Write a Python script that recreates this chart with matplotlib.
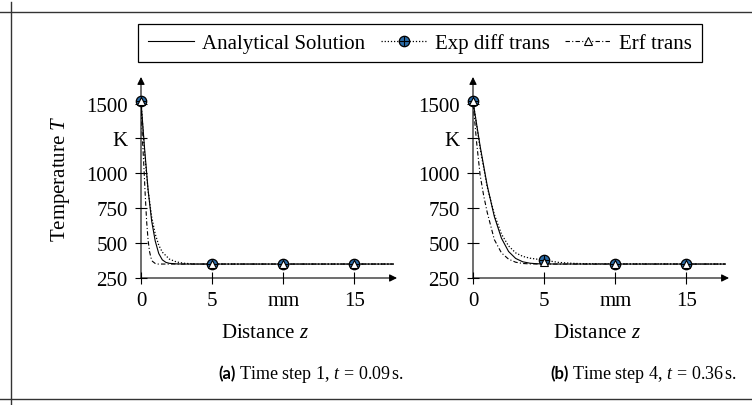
#plot of temperature profiles for two time steps, analytical vs transformations
import matplotlib.pyplot as plt
from matplotlib.lines import Line2D

plt.rcParams['font.family'] = 'Liberation Serif'
plt.rcParams['mathtext.fontset'] = 'custom'
plt.rcParams['mathtext.rm'] = 'Liberation Serif'
plt.rcParams['mathtext.it'] = 'Liberation Serif:italic'
plt.rcParams['font.size'] = 15

# time step 1, t = 0.09 s
z_ana_a = [0, 0.25, 0.5, 0.75, 1.0, 1.25, 1.5, 1.75, 2.0, 2.5, 3.0, 17.75]
T_ana_a = [1515, 1180, 880, 658, 515, 425, 380, 362, 355, 351, 350, 350]
z_exp_a = [0, 0.25, 0.5, 0.75, 1.0, 1.25, 1.5, 2.0, 2.5, 3.0, 3.5, 4.0, 17.75]
T_exp_a = [1515, 1150, 875, 688, 565, 485, 435, 385, 365, 356, 352, 350, 350]
z_erf_a = [0, 0.1, 0.2, 0.3, 0.4, 0.5, 0.6, 0.7, 0.8, 1.0, 1.2, 17.75]
T_erf_a = [1515, 1245, 1055, 838, 650, 520, 440, 395, 370, 354, 350, 350]

# time step 4, t = 0.36 s
z_ana_b = [0, 0.5, 1.0, 1.5, 2.0, 2.5, 3.0, 3.5, 4.0, 4.5, 5.0, 6.0, 17.75]
T_ana_b = [1515, 1195, 912, 690, 535, 440, 390, 366, 356, 352, 351, 350, 350]
z_exp_b = [0, 0.5, 1.0, 1.5, 2.0, 2.5, 3.0, 3.5, 4.0, 4.5, 5.0, 5.5, 6.0, 7.0, 8.0, 17.75]
T_exp_b = [1515, 1180, 902, 705, 565, 480, 430, 405, 392, 385, 380, 370, 362, 355, 352, 350]
z_erf_b = [0, 0.25, 0.5, 0.75, 1.0, 1.5, 2.0, 2.5, 3.0, 3.5, 4.0, 5.0, 17.75]
T_erf_b = [1515, 1225, 988, 840, 720, 525, 430, 385, 363, 354, 351, 350, 350]

# grid nodes where markers are drawn
z_nodes = [0, 5, 10, 15]
exp_nodes_a = [1515, 350, 350, 350]
erf_nodes_a = [1515, 350, 350, 350]
exp_nodes_b = [1515, 380, 350, 350]
erf_nodes_b = [1515, 362, 350, 350]

xticks = [0, 5, 10, 15]
xticklabels = ['0', '5', 'mm', '15']
yticks = [250, 500, 750, 1000, 1250, 1500]
yticklabels = ['250', '500', '750', '1000', 'K', '1500']

captions = [('(a)', r'Time step 1, $t\,=\,0.09\,$s.'),
            ('(b)', r'Time step 4, $t\,=\,0.36\,$s.')]

blue = '#2b6ca8'
dashdot = (0, (4, 2, 1, 2))
W, H = 752, 406

fig = plt.figure(figsize=(W / 100, H / 100), dpi=100)

def px(x, y):
    return x / W, 1 - y / H

panels = [
    (141, z_ana_a, T_ana_a, z_exp_a, T_exp_a, z_erf_a, T_erf_a, exp_nodes_a, erf_nodes_a),
    (473, z_ana_b, T_ana_b, z_exp_b, T_exp_b, z_erf_b, T_erf_b, exp_nodes_b, erf_nodes_b),
]

axes = []
for i, (x0, za, Ta, ze, Te, zf, Tf, en, fn) in enumerate(panels):
    ax = fig.add_axes([x0 / W, (H - 279) / H, 256 / W, 201 / H])
    ax.plot(za, Ta, color='k', lw=0.8)
    ax.plot(ze, Te, color='k', lw=0.9, ls=(0, (1, 1.5)))
    ax.plot(zf, Tf, color='k', lw=0.8, ls=dashdot)
    ax.plot(z_nodes, en, ls='none', marker='o', ms=7.5, mfc=blue, mec='k', mew=0.9, clip_on=False, zorder=5)
    ax.plot(z_nodes, en, ls='none', marker='+', ms=7, color='k', mew=0.8, clip_on=False, zorder=5)
    ax.plot(z_nodes, fn, ls='none', marker='^', ms=5.5, mfc='white', mec='k', mew=0.8, clip_on=False, zorder=6)
    ax.set_xlim(0, 18)
    ax.set_ylim(250, 1690)
    ax.set_xticks(xticks)
    ax.set_xticklabels(xticklabels)
    ax.set_yticks(yticks)
    ax.set_yticklabels(yticklabels)
    ax.tick_params(direction='inout', length=9, width=0.8, pad=5)
    for s in ax.spines.values():
        s.set_visible(False)
    ax.patch.set_visible(False)
    arrow = dict(arrowstyle='-|>', lw=0.8, color='k', mutation_scale=11, shrinkA=0, shrinkB=0)
    ax.annotate('', xy=(1, 0), xytext=(0, 0), xycoords='axes fraction', arrowprops=arrow)
    ax.annotate('', xy=(0, 1), xytext=(0, 0), xycoords='axes fraction', arrowprops=arrow)
    axes.append(ax)

    cx = x0 + 124
    fig.text(*px(cx, 333), r'Distance $z$', ha='center', va='center')
    lab, rest = captions[i]
    capx = 218 if i == 0 else 550
    t = fig.text(*px(capx, 374), lab, ha='left', va='center', family='Lato', weight='bold', fontsize=12)
    ax.annotate(' ' + rest, xy=(1, 0.45), xycoords=t, ha='left', va='center', fontsize=13)

axes[0].set_ylabel(r'Temperature $T$', labelpad=10)

# legend
h1 = Line2D([], [], color='k', lw=0.8)
h2 = (Line2D([], [], color='k', lw=0.9, ls=(0, (1, 1.5)), marker='o', ms=7.5, mfc=blue, mec='k', mew=0.9),
      Line2D([], [], ls='none', marker='+', ms=7, color='k', mew=0.8))
h3 = Line2D([], [], color='k', lw=0.8, ls=dashdot, marker='^', ms=5.5, mfc='white', mec='k', mew=0.8)
leg = fig.legend([h1, h2, h3], ['Analytical Solution', 'Exp diff trans', 'Erf trans'],
                 loc='center', bbox_to_anchor=px(420, 44), ncol=3, fontsize=15,
                 frameon=True, fancybox=False, edgecolor='k', framealpha=1,
                 handlelength=2.2, handletextpad=0.4, columnspacing=0.75, borderpad=0.45)
leg.get_frame().set_linewidth(0.9)

# page frame lines
fig.add_artist(Line2D([0, 1], [1 - 13 / H] * 2, transform=fig.transFigure, color='#333333', lw=1))
fig.add_artist(Line2D([0, 1], [1 - 400 / H] * 2, transform=fig.transFigure, color='#333333', lw=1))
fig.add_artist(Line2D([11 / W] * 2, [0, 1 - 3 / H], transform=fig.transFigure, color='#333333', lw=1))

fig.savefig('out.png', dpi=100)
